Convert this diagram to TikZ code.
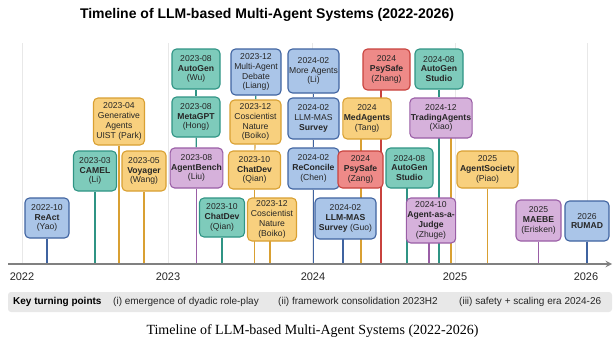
\documentclass[tikz,border=0pt]{standalone}
\usepackage{fontspec}
\setmainfont{Liberation Sans}
\newfontfamily\capfont{Liberation Serif}
\usetikzlibrary{backgrounds}
\definecolor{bluef}{HTML}{AAC5E8}\definecolor{blued}{HTML}{3F63A0}
\definecolor{tealf}{HTML}{7ECBBB}\definecolor{teald}{HTML}{2F9484}
\definecolor{orangef}{HTML}{F8D07E}\definecolor{oranged}{HTML}{D9A032}
\definecolor{purplef}{HTML}{D6B1DB}\definecolor{purpled}{HTML}{9A5EA6}
\definecolor{redf}{HTML}{EE8A88}\definecolor{redd}{HTML}{C8423E}
\tikzset{
  ev/.style={draw,rounded corners=4.5pt,line width=1.1pt,align=center,inner sep=1pt,
    text=black!85,font=\fontsize{8.6}{9.8}\selectfont},
  blueev/.style={ev,fill=bluef,draw=blued},
  tealev/.style={ev,fill=tealf,draw=teald},
  orangeev/.style={ev,fill=orangef,draw=oranged},
  purpleev/.style={ev,fill=purplef,draw=purpled},
  redev/.style={ev,fill=redf,draw=redd},
  ln/.style={line width=1.1pt},
  year/.style={font=\fontsize{11}{12}\selectfont,text=black!85},
}
\begin{document}
\begin{tikzpicture}[x=1pt,y=-1pt,>=stealth]
    \useasboundingbox (0,0) rectangle (614,340);
    \node[font=\bfseries\fontsize{14}{16}\selectfont] (title) at (267,15) {Timeline of LLM-based Multi-Agent Systems (2022-2026)};
    \coordinate (ax) at (0,264);
    % events, left to right
    \node[blueev,minimum width=44,minimum height=40] (react) at (47,218) {2022-10\\\textbf{ReAct}\\(Yao)};
    \node[tealev,minimum width=43,minimum height=40] (camel) at (95,171) {2023-03\\\textbf{CAMEL}\\(Li)};
    \node[orangeev,minimum width=51,minimum height=47] (genag) at (119,121.5) {2023-04\\Generative\\Agents\\UIST (Park)};
    \node[orangeev,minimum width=44,minimum height=40] (voyager) at (144,171) {2023-05\\\textbf{Voyager}\\(Wang)};
    \node[tealev,minimum width=48,minimum height=40] (autogen) at (196,69) {2023-08\\\textbf{AutoGen}\\(Wu)};
    \node[tealev,minimum width=48,minimum height=40] (metagpt) at (196,117) {2023-08\\\textbf{MetaGPT}\\(Hong)};
    \node[purpleev,minimum width=49,minimum height=40] (agentbench) at (196.5,168) {2023-08\\\textbf{AgentBench}\\(Liu)};
    \node[tealev,minimum width=45,minimum height=39] (chatdevb) at (222,217.5) {2023-10\\\textbf{ChatDev}\\(Qian)};
    \node[blueev,minimum width=50,minimum height=46] (debate) at (256,72) {2023-12\\Multi-Agent\\Debate\\(Liang)};
    \node[orangeev,minimum width=51,minimum height=44] (cosci) at (255.5,122) {2023-12\\Coscientist\\Nature\\(Boiko)};
    \node[orangeev,minimum width=52,minimum height=38] (chatdev) at (254.5,170) {2023-10\\\textbf{ChatDev}\\(Qian)};
    \node[orangeev,minimum width=49,minimum height=43] (coscib) at (272,219.5) {2023-12\\Coscientist\\Nature\\(Boiko)};
    \node[blueev,minimum width=51,minimum height=44] (moreag) at (313.5,71) {2024-02\\More Agents\\(Li)};
    \node[blueev,minimum width=51,minimum height=41] (survey) at (313.5,118.5) {2024-02\\LLM-MAS\\\textbf{Survey}};
    \node[blueev,minimum width=51,minimum height=41] (reconcile) at (313.5,168.5) {2024-02\\\textbf{ReConcile}\\(Chen)};
    \node[blueev,minimum width=61,minimum height=41] (surveyb) at (345.5,218.5) {2024-02\\\textbf{LLM-MAS}\\\textbf{Survey} (Guo)};
    \node[redev,minimum width=47,minimum height=41] (psyzhang) at (386.5,69.5) {2024\\\textbf{PsySafe}\\(Zhang)};
    \node[orangeev,minimum width=48,minimum height=41] (medag) at (367,118.5) {2024\\\textbf{MedAgents}\\(Tang)};
    \node[redev,minimum width=45,minimum height=37] (psyzang) at (360.5,169.5) {2024\\\textbf{PsySafe}\\(Zang)};
    \node[tealev,minimum width=48,minimum height=40] (studio) at (439,69) {2024-08\\\textbf{AutoGen}\\\textbf{Studio}};
    \node[purpleev,minimum width=58,minimum height=40] (trading) at (441,118) {2024-12\\\textbf{TradingAgents}\\(Xiao)};
    \node[tealev,minimum width=47,minimum height=40] (studiob) at (409.5,168) {2024-08\\\textbf{AutoGen}\\\textbf{Studio}};
    \node[purpleev,minimum width=48,minimum height=45] (judge) at (431,220.5) {2024-10\\\textbf{Agent-as-a-}\\\textbf{Judge}\\(Zhuge)};
    \node[orangeev,minimum width=61,minimum height=37] (society) at (487.5,169.5) {2025\\\textbf{AgentSociety}\\(Piao)};
    \node[purpleev,minimum width=45,minimum height=41] (maebe) at (538.5,220.5) {2025\\\textbf{MAEBE}\\(Erisken)};
    \node[blueev,minimum width=44,minimum height=40] (rumad) at (587,221) {2026\\\textbf{RUMAD}};
    % connectors behind the boxes
    \begin{scope}[on background layer]
    \foreach \gx in {22,168,312,455,587}
      \draw[black!9,line width=0.8pt] (\gx,43) -- (\gx,264);
    \draw[ln,blued] (react) -- (react |- ax);
    \draw[ln,teald] (camel) -- (camel |- ax);
    \draw[ln,oranged] (genag) -- (genag |- ax);
    \draw[ln,oranged] (voyager) -- (voyager |- ax);
    \draw[ln,teald] (autogen) -- (metagpt);
    \draw[ln,teald] (metagpt) -- (agentbench);
    \draw[ln,purpled] (agentbench) -- (agentbench |- ax);
    \draw[ln,teald] (chatdevb) -- (chatdevb |- ax);
    \draw[ln,teald] (debate) -- (cosci);
    \draw[ln,oranged] (cosci) -- (chatdev);
    \draw[ln,oranged] (chatdev) -- (chatdev |- ax);
    \draw[ln,oranged] ([xshift=-2pt]coscib.center) -- ([xshift=-2pt]coscib.center |- ax);
    \draw[ln,blued] (moreag) -- (survey);
    \draw[ln,blued] (survey) -- (reconcile);
    \draw[ln,blued] (reconcile) -- (reconcile |- ax);
    \draw[ln,blued] ([xshift=-2.5pt]surveyb.center) -- ([xshift=-2.5pt]surveyb.center |- ax);
    \draw[ln,redd] ([xshift=-5.5pt]psyzhang.center) -- ([xshift=-5.5pt]psyzhang.center |- ax);
    \draw[ln,oranged] ([xshift=-6pt]medag.center) -- ([xshift=-6pt]medag.center |- ax);
    \draw[ln,teald] ([xshift=-2pt]trading.center) -- ([xshift=-2pt]trading.center |- ax);
    \draw[ln,teald] (studio) -- (studio |- trading.north);
    \draw[ln,oranged] ([xshift=10pt]trading.center) -- ([xshift=10pt]trading.center |- ax);
    \draw[ln,teald] ([xshift=-2.5pt]studiob.center) -- ([xshift=-2.5pt]studiob.center |- ax);
    \draw[ln,purpled] ([xshift=-2pt]judge.center) -- ([xshift=-2pt]judge.center |- ax);
    \draw[ln,oranged] (society) -- (society |- ax);
    \draw[ln,purpled] (maebe) -- (maebe |- ax);
    \draw[ln,blued] (rumad) -- (rumad |- ax);
    \end{scope}
    % axis and years
    \coordinate (axs) at (8,264);
    \coordinate (axe) at (612,264);
    \draw[->,black!50,line width=1.8pt] (axs) -- (axe);
    \node[year] (y22) at (22,277) {2022};
    \node[year] (y23) at (168,277) {2023};
    \node[year] (y24) at (313,277) {2024};
    \node[year] (y25) at (455,277) {2025};
    \node[year] (y26) at (586,277) {2026};
    % turning points
    \fill[black!9,rounded corners=3pt] (8,292) rectangle (612,312);
    \node[anchor=west,font=\bfseries\fontsize{10}{12}\selectfont,inner sep=0] (key) at (13,302) {Key turning points};
    \node[anchor=west,font=\fontsize{10}{12}\selectfont,inner sep=0,text=black!85] (tp1) at (113,302) {(i) emergence of dyadic role-play};
    \node[anchor=west,font=\fontsize{10}{12}\selectfont,inner sep=0,text=black!85] (tp2) at (278,302) {(ii) framework consolidation 2023H2};
    \node[anchor=west,font=\fontsize{10}{12}\selectfont,inner sep=0,text=black!85] (tp3) at (459,302) {(iii) safety + scaling era 2024-26};
    \node[font=\capfont\fontsize{14}{16}\selectfont] (cap) at (312.5,331) {Timeline of LLM-based Multi-Agent Systems (2022-2026)};
\end{tikzpicture}
\end{document}
